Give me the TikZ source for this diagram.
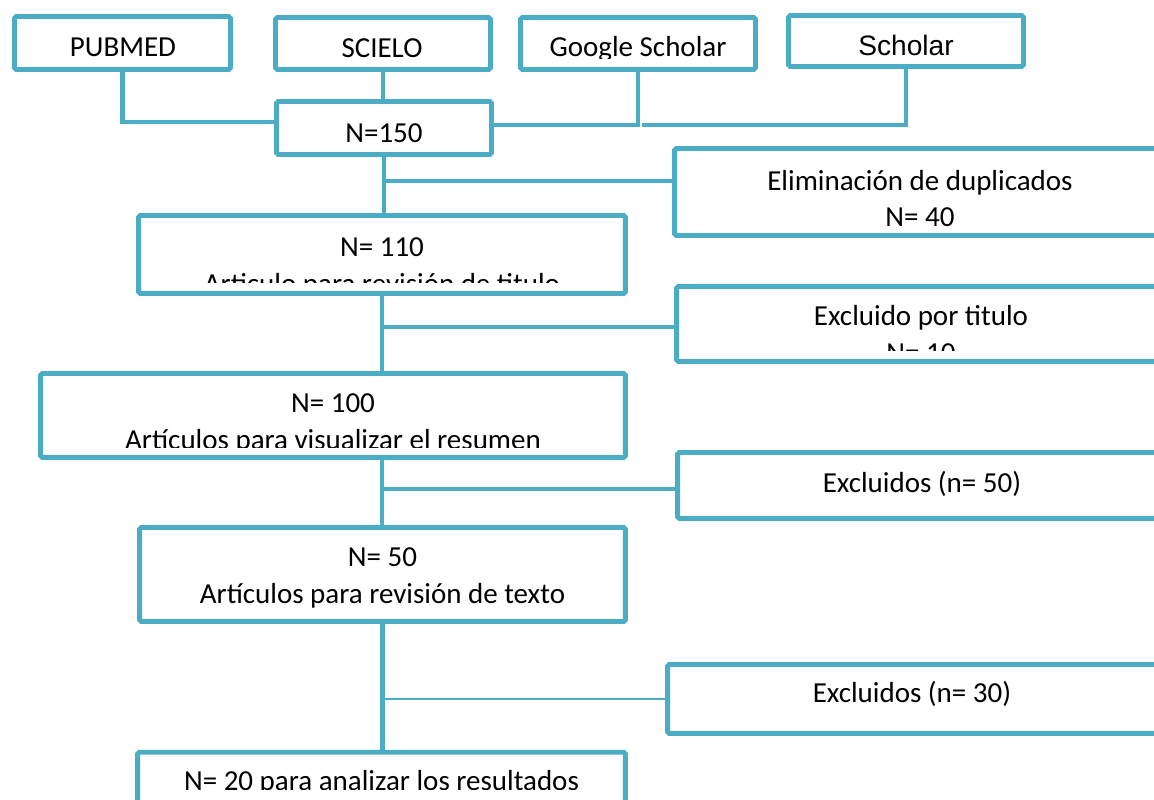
\documentclass[tikz,border=0pt]{standalone}
\usepackage{fontspec}
\setmainfont{Carlito}
\newfontfamily\arialfont{Liberation Sans}
\usetikzlibrary{calc}
\definecolor{boxblue}{RGB}{75,172,198}

\begin{document}
\begin{tikzpicture}[x=0.02cm, y=-0.02cm,
    box/.style={draw=boxblue, line width=2.8pt, rounded corners=1pt, inner sep=0pt},
    txt/.style={align=center, inner sep=0pt, font=\fontsize{16.5}{21}\selectfont},
    link/.style={draw=boxblue, line width=2.4pt},
    thinlink/.style={draw=boxblue, line width=1.1pt}]
    \clip (0,0) rectangle (1154,799);

    % bases de datos
    \node[box, minimum width=4.32cm, minimum height=1.06cm] (pubmed) at (122.5,43) {};
    \node[txt] (pubmed-t) at (123,47) {PUBMED};
    \node[box, minimum width=4.3cm, minimum height=1.04cm] (scielo) at (383,43.5) {};
    \node[txt] (scielo-t) at (382,48) {SCIELO};
    \node[box, minimum width=4.7cm, minimum height=1.04cm] (google) at (638,43.5) {};
    \begin{scope}
      \clip (google.north west) rectangle (google.east |- 0,58);
      \node[txt] (google-t) at (638,49) {Google Scholar};
    \end{scope}
    \node[box, minimum width=4.7cm, minimum height=1.02cm] (scholar) at (906,41) {};
    \node[txt, font=\arialfont\fontsize{16}{19}\selectfont] (scholar-t) at (906,45) {Scholar};

    \node[box, minimum width=4.3cm, minimum height=1.06cm] (n150) at (384,128) {};
    \node[txt] (n150-t) at (384,133) {N=150};

    % columna principal
    \node[box, minimum width=9.74cm, minimum height=1.56cm] (n110) at (382,254.5) {};
    \begin{scope}
      \clip (n110.north west) rectangle (n110.east |- 0,282);
      \node[txt] (n110-t) at (382,268) {N= 110\\Articulo para revisión de titulo};
    \end{scope}
    \node[box, minimum width=11.7cm, minimum height=1.68cm] (n100) at (333,415.5) {};
    \begin{scope}
      \clip (n100.north west) rectangle (n100.east |- 0,447);
      \node[txt] (n100-t) at (333,423.5) {N= 100\\Artículos para visualizar el resumen};
    \end{scope}
    \node[box, minimum width=9.72cm, minimum height=1.88cm] (n50) at (382.5,574.5) {};
    \node[txt] (n50-t) at (382.5,577.5) {N= 50\\Artículos para revisión de texto};
    \node[box, minimum width=9.76cm, minimum height=1.55cm] (n20) at (381.5,791) {};
    \begin{scope}
      \clip (n20.north west) rectangle (n20.east |- 0,789);
      \node[txt] (n20-t) at (381.5,783) {N= 20 para analizar los resultados};
    \end{scope}

    % excluidos
    \node[box, minimum width=10.11cm, minimum height=1.74cm] (elim) at (927.25,192) {};
    \node[txt] (elim-t) at (920,198.5) {Eliminación de duplicados\\N= 40};
    \node[box, minimum width=10.07cm, minimum height=1.5cm] (exctit) at (928.25,324) {};
    \begin{scope}
      \clip (exctit.north west) rectangle (exctit.east |- 0,350);
      \node[txt] (exctit-t) at (921,334) {Excluido por titulo\\N= 10};
    \end{scope}
    \node[box, minimum width=10.05cm, minimum height=1.32cm] (exc50) at (928.75,485.5) {};
    \node[txt] (exc50-t) at (922,484) {Excluidos (n= 50)};
    \node[box, minimum width=10.25cm, minimum height=1.38cm] (exc30) at (923.75,699) {};
    \node[txt] (exc30-t) at (912,694) {Excluidos (n= 30)};

    % conexiones
    \coordinate (gap) at (642,125);
    \draw[link] (pubmed.south) |- (n150.west |- 0,122);
    \draw[link] (scielo.south) -- (scielo.south |- n150.north);
    \draw[link] (google.south) |- (n150.east |- 0,125);
    \draw[link] (scholar.south) |- (gap);

    \draw[link] (n150.south) -- (n150.south |- n110.north);
    \draw[link] (n150.south |- 0,181) -- (elim.west |- 0,181);
    \draw[link] (n110.south) -- (n110.south |- n100.north);
    \draw[link] (n110.south |- 0,327) -- (exctit.west |- 0,327);
    \draw[link] (n110.south |- n100.south) -- (n110.south |- n50.north);
    \draw[link] (n110.south |- 0,489) -- (exc50.west |- 0,489);
    \draw[link] (n50.south) -- (n50.south |- n20.north);
    \draw[thinlink] (n50.south |- exc30.west) -- (exc30.west);
\end{tikzpicture}
\end{document}
